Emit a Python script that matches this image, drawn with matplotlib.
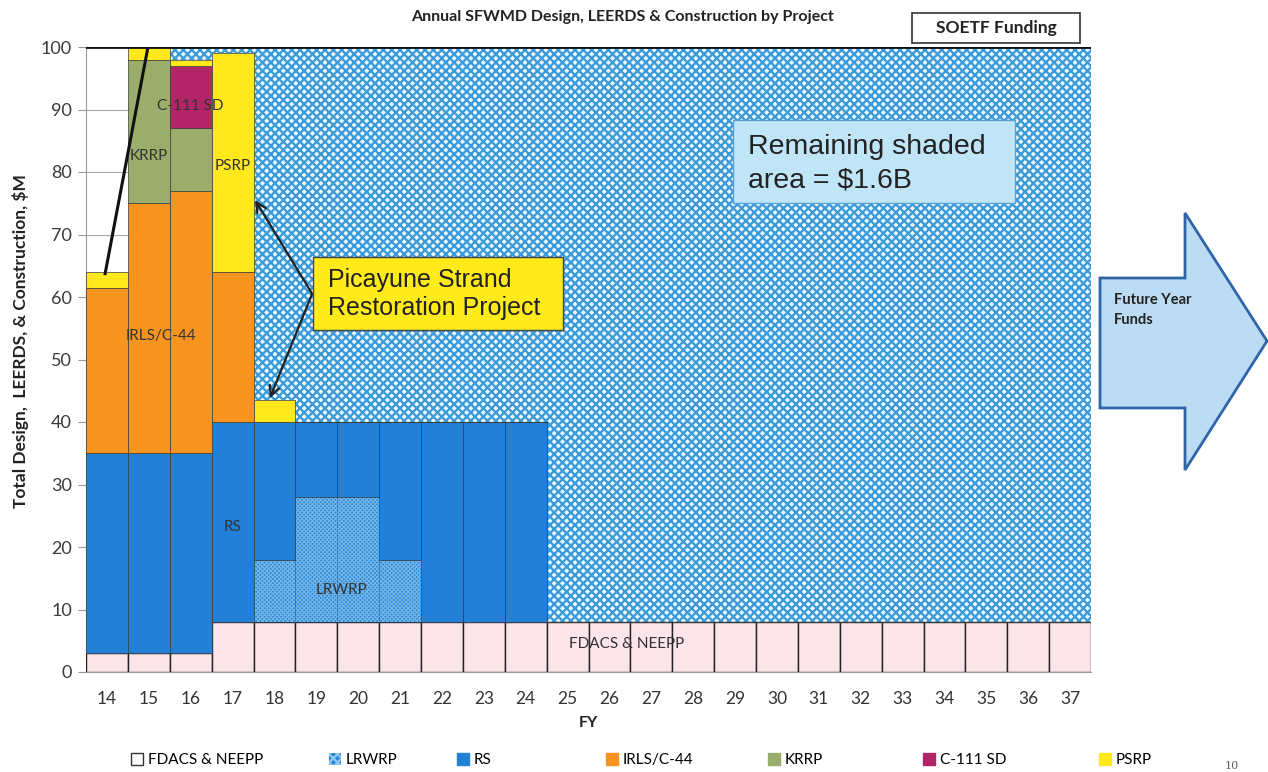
import matplotlib
matplotlib.use("Agg")
import matplotlib.pyplot as plt
import matplotlib.patches as mpatches
import numpy as np

# Fiscal years and stacked funding ($M) per project
years = [14, 15, 16, 17, 18, 19, 20, 21, 22, 23, 24, 25,
         26, 27, 28, 29, 30, 31, 32, 33, 34, 35, 36, 37]
fdacs = [3, 3, 3, 8, 8, 8, 8, 8, 8, 8, 8, 8,
         8, 8, 8, 8, 8, 8, 8, 8, 8, 8, 8, 8]
lrwrp = [0, 0, 0, 0, 10, 20, 20, 10, 0, 0, 0, 0,
         0, 0, 0, 0, 0, 0, 0, 0, 0, 0, 0, 0]
rs = [32, 32, 32, 32, 22, 12, 12, 22, 32, 32, 32, 0,
      0, 0, 0, 0, 0, 0, 0, 0, 0, 0, 0, 0]
irls = [26.5, 40, 42, 24, 0, 0, 0, 0, 0, 0, 0, 0,
        0, 0, 0, 0, 0, 0, 0, 0, 0, 0, 0, 0]
krrp = [0, 23, 10, 0, 0, 0, 0, 0, 0, 0, 0, 0,
        0, 0, 0, 0, 0, 0, 0, 0, 0, 0, 0, 0]
c111 = [0, 0, 10, 0, 0, 0, 0, 0, 0, 0, 0, 0,
        0, 0, 0, 0, 0, 0, 0, 0, 0, 0, 0, 0]
psrp = [2.5, 2, 1, 35, 3.5, 0, 0, 0, 0, 0, 0, 0,
        0, 0, 0, 0, 0, 0, 0, 0, 0, 0, 0, 0]
ceiling = 100
shaded_from = 16  # SOETF funding ceiling shading starts here

# trend line drawn across FY14-15
trend_x = [13.95, 14.98]
trend_y = [63.5, 100]

W, H = 1268, 772


def px(x, y):
    """pixel -> figure fraction"""
    return x / W, 1 - y / H


def fig_box(fig, x0, y0, x1, y1, fc, ec, lw=1.0):
    a, b1 = px(x0, y1)
    c, d = px(x1, y0)
    rect = mpatches.Rectangle((a, b1), c - a, d - b1, transform=fig.transFigure,
                              fc=fc, ec=ec, lw=lw, zorder=2)
    fig.patches.append(rect)


plt.rcParams['font.family'] = ['Lato', 'DejaVu Sans']
plt.rcParams['hatch.linewidth'] = 1.7

fig = plt.figure(figsize=(12.68, 7.72), dpi=100)
l, b = px(86, 672)
r, t = px(1091, 47)
ax = fig.add_axes([l, b, r - l, t - b])

x = np.arange(len(years))
series = [
    ("FDACS & NEEPP", fdacs, "#fbe4ea"),
    ("LRWRP", lrwrp, "#2a82d4"),
    ("RS", rs, "#2280d6"),
    ("IRLS/C-44", irls, "#f7941f"),
    ("KRRP", krrp, "#9bad6b"),
    ("C-111 SD", c111, "#b22669"),
    ("PSRP", psrp, "#ffe81c"),
]

bottom = np.zeros(len(years))
for name, vals, col in series:
    vals = np.array(vals, dtype=float)
    if name == "FDACS & NEEPP":
        ax.bar(x, vals, bottom=bottom, width=1.0, color=col,
               edgecolor="#222222", linewidth=1.0, zorder=3)
    elif name == "LRWRP":
        with plt.rc_context({'hatch.linewidth': 0.9}):
            ax.bar(x, vals, bottom=bottom, width=1.0, color=col,
                   edgecolor="#72b6e8", hatch="xxxxxxxx", linewidth=0, zorder=3)
        ax.bar(x, vals, bottom=bottom, width=1.0, fill=False,
               edgecolor="#1d5e9e", linewidth=0.6, linestyle=":", zorder=3)
    else:
        ax.bar(x, vals, bottom=bottom, width=1.0, color=col,
               edgecolor="#3a3a3a", linewidth=0.5, zorder=3)
    bottom += vals

# remaining shaded area up to the funding ceiling
remaining = np.where(np.array(years) >= shaded_from,
                     np.clip(ceiling - bottom, 0, None), 0)
ax.bar(x, remaining, bottom=bottom, width=1.0, color="#f4fbfe",
       edgecolor="#3b9bdb", hatch="xxxx", linewidth=0, zorder=2)

ax.plot([xx - 14 for xx in trend_x], trend_y, color="#111111", lw=2.2,
        zorder=5, solid_capstyle="butt")
ax.axhline(ceiling, color="#111111", lw=2, zorder=6)

ax.set_xlim(-0.5, len(years) - 0.5)
ax.set_ylim(0, 100)
ax.set_yticks(range(0, 101, 10))
ax.set_xticks(x)
ax.set_xticklabels([str(v) for v in years])
ax.tick_params(axis="x", length=0, pad=14, labelsize=12.5, colors="#333333")
ax.tick_params(axis="y", length=6, pad=4, labelsize=13, colors="#3a3a3a",
               color="#999999")
ax.grid(axis="y", color="#aaaaaa", lw=0.8, zorder=0)
for s in ["top", "right"]:
    ax.spines[s].set_visible(False)
ax.spines["left"].set_color("#999999")
ax.spines["bottom"].set_color("#999999")
ax.set_xlabel("FY", fontsize=11.5, fontweight="bold", labelpad=6, color="#222222")
ax.set_ylabel("Total Design,  LEERDS, & Construction, $M", fontsize=12.5,
              fontweight="bold", color="#222222")
ax.yaxis.set_label_coords(-0.057, 0.53)

# in-bar labels
lab = dict(fontsize=11, color="#333333", zorder=7, ha="center", va="center")
ax.text(2.0, 90.5, "C-111 SD", **lab)
ax.text(1.0, 82.5, "KRRP", **lab)
ax.text(3.0, 81, "PSRP", **lab)
ax.text(1.3, 53.8, "IRLS/C-44", **lab)
ax.text(3.0, 23.2, "RS", **lab)
ax.text(5.6, 13.2, "LRWRP", **lab)
ax.text(12.4, 4.5, "FDACS & NEEPP", **lab)

# Picayune callout
fig_box(fig, 313, 257, 563, 330, "#ffeb1a", "#444444", 1.0)
tx, ty = px(328, 294)
fig.text(tx, ty, "Picayune Strand\nRestoration Project",
         family="Liberation Sans", fontsize=18, color="#222222",
         ha="left", va="center", linespacing=1.2, zorder=3)
for hx, hy in [(3.54, 75.5), (3.89, 43.8)]:
    ax.annotate("", xy=(hx, hy), xytext=(4.9, 60.5),
                arrowprops=dict(arrowstyle="->", color="#222222", lw=1.6,
                                shrinkA=0, shrinkB=0, mutation_scale=18),
                zorder=8)

# Remaining area callout
fig_box(fig, 733, 120, 1015, 203, "#bfe5f7", "#5a9fd4", 1.0)
tx, ty = px(748, 164)
fig.text(tx, ty, "Remaining shaded\narea = $1.6B", family="Liberation Sans",
         fontsize=20.5, color="#222222", ha="left", va="center", linespacing=1.35,
         zorder=3)

# title and funding box
tx, ty = px(622, 17)
fig.text(tx, ty, "Annual SFWMD Design, LEERDS & Construction by Project",
         fontsize=11.5, fontweight="bold", color="#222222", ha="center", va="center")
fig_box(fig, 912, 13, 1080, 43, "white", "#333333", 1.2)
tx, ty = px(996, 28)
fig.text(tx, ty, "SOETF Funding", fontsize=12.5, fontweight="bold", color="#222222",
         ha="center", va="center", zorder=3)

# future year arrow
arrow_px = [(1100, 278), (1185, 278), (1185, 213), (1267, 341),
            (1185, 470), (1185, 408), (1100, 408)]
poly = mpatches.Polygon([px(a, c) for a, c in arrow_px], closed=True,
                        transform=fig.transFigure, fc="#bcdcf3", ec="#2f65a8",
                        lw=2)
fig.patches.append(poly)
tx, ty = px(1114, 310)
fig.text(tx, ty, "Future Year\nFunds", fontsize=10.5, fontweight="bold",
         color="#222222", ha="left", va="center", linespacing=1.5)

# legend, one entry per slot as in the original layout
legend_x = [131, 329, 457, 606, 768, 923, 1099]
for (name, vals, col), lxp in zip(series, legend_x):
    if name == "FDACS & NEEPP":
        h = mpatches.Patch(fc="white", ec="#333333", lw=1, label=name)
    elif name == "LRWRP":
        h = mpatches.Patch(fc=col, ec="#8ec8ee", hatch="xxxx", lw=0, label=name)
    else:
        h = mpatches.Patch(fc=col, ec=col, label=name)
    lx, ly = px(lxp, 760)
    fig.legend(handles=[h], loc="center left", bbox_to_anchor=(lx, ly),
               frameon=False, fontsize=11, handlelength=0.8, handleheight=0.8,
               handletextpad=0.3, borderpad=0, borderaxespad=0)
tx, ty = px(1232, 766)
fig.text(tx, ty, "10", fontsize=8, color="#556655", ha="center", va="center",
         family="DejaVu Serif")

fig.savefig("out.png", dpi=100)
